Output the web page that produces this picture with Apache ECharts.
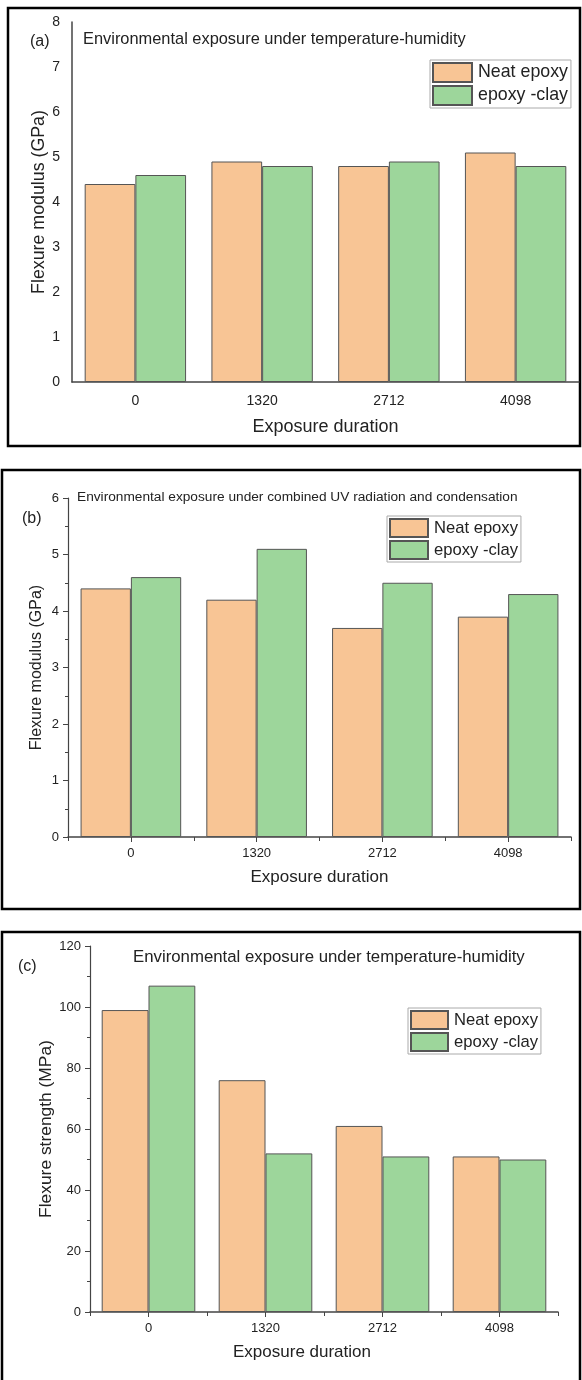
<!DOCTYPE html>
<html>
<head>
<meta charset="utf-8">
<script src="https://cdn.jsdelivr.net/npm/echarts@6/dist/echarts.min.js"></script>
<style>
  html, body { margin: 0; padding: 0; background: #fff; }
  #main { width: 582px; height: 1380px; }
</style>
</head>
<body>
<div id="main"></div>
<script>
// exposure duration categories
var durations = ['0', '1320', '2712', '4098']
var seriesNames = ['Neat epoxy', 'epoxy -clay']

// (a) flexure modulus, temperature-humidity
var modulusTH_neat = [4.4, 4.9, 4.8, 5.1]
var modulusTH_clay = [4.6, 4.8, 4.9, 4.8]
// (b) flexure modulus, UV + condensation
var modulusUV_neat = [4.4, 4.2, 3.7, 3.9]
var modulusUV_clay = [4.6, 5.1, 4.5, 4.3]
// (c) flexure strength, temperature-humidity
var strengthTH_neat = [99, 76, 61, 51]
var strengthTH_clay = [107, 52, 51, 50]

var FONT = 'Liberation Sans, Arial, sans-serif'
var INK = '#222'
var orange = '#F8C595'
var green = '#9DD69B'

var myChart = echarts.init(document.getElementById('main'))

function barSeries (name, data, idx, color) {
  return {
    name: name,
    type: 'bar',
    xAxisIndex: idx,
    yAxisIndex: idx,
    barGap: 0,
    barCategoryGap: '20%',
    itemStyle: { color: color, borderColor: '#555', borderWidth: 1 },
    data: data
  }
}

function legendAt (left, top, iw, ih, fs) {
  return {
    orient: 'vertical',
    left: left,
    top: top,
    itemWidth: iw,
    itemHeight: ih,
    itemGap: 2,
    padding: [2, 3, 2, 2],
    borderColor: '#aaa',
    borderWidth: 1,
    icon: 'rect',
    selectedMode: false,
    textStyle: { fontFamily: FONT, fontSize: fs, color: INK, padding: [0, 0, 0, 1] },
    data: seriesNames
  }
}

var axisLine = { lineStyle: { color: '#444', width: 1.5 } }

myChart.setOption({
  animation: false,
  backgroundColor: '#fff',
  textStyle: { fontFamily: FONT },
  grid: [
    { left: 72, top: 22, width: 507, height: 360 },
    { left: 68, top: 498, width: 503, height: 339 },
    { left: 90, top: 946, width: 468, height: 366 }
  ],
  legend: [
    legendAt(430, 60, 39, 19, 17.8),
    legendAt(387, 516, 38, 18, 16.6),
    legendAt(408, 1008, 37, 18, 16.6)
  ],
  xAxis: [
    {
      type: 'category', gridIndex: 0, data: durations,
      axisLine: axisLine, axisTick: { show: false },
      axisLabel: { color: INK, fontSize: 14, margin: 12 },
      name: 'Exposure duration', nameLocation: 'middle', nameGap: 36, nameMoveOverlap: false,
      nameTextStyle: { color: INK, fontSize: 18 }
    },
    {
      type: 'category', gridIndex: 1, data: durations,
      axisLine: axisLine, axisTick: { show: true, length: 4, lineStyle: { color: '#444' } },
      axisLabel: { color: INK, fontSize: 13, margin: 10 },
      name: 'Exposure duration', nameLocation: 'middle', nameGap: 32, nameMoveOverlap: false,
      nameTextStyle: { color: INK, fontSize: 17 }
    },
    {
      type: 'category', gridIndex: 2, data: durations,
      axisLine: axisLine, axisTick: { show: true, length: 4, lineStyle: { color: '#444' } },
      axisLabel: { color: INK, fontSize: 13, margin: 10 },
      name: 'Exposure duration', nameLocation: 'middle', nameGap: 32, nameMoveOverlap: false,
      nameTextStyle: { color: INK, fontSize: 17, padding: [0, 44, 0, 0] }
    },
    // center ticks for (b) and (c)
    {
      type: 'category', gridIndex: 1, data: durations, position: 'bottom',
      axisLine: { show: false }, axisLabel: { show: false },
      axisTick: { show: true, alignWithLabel: true, length: 5, lineStyle: { color: '#444' } }
    },
    {
      type: 'category', gridIndex: 2, data: durations, position: 'bottom',
      axisLine: { show: false }, axisLabel: { show: false },
      axisTick: { show: true, alignWithLabel: true, length: 5, lineStyle: { color: '#444' } }
    }
  ],
  yAxis: [
    {
      type: 'value', gridIndex: 0, min: 0, max: 8, interval: 1,
      axisLine: { show: true, lineStyle: { color: '#444', width: 1.5 } },
      axisTick: { show: false }, splitLine: { show: false },
      axisLabel: { color: INK, fontSize: 14, margin: 12 },
      name: 'Flexure modulus (GPa)', nameLocation: 'middle', nameGap: 24, nameMoveOverlap: false,
      nameTextStyle: { color: INK, fontSize: 17.8 }
    },
    {
      type: 'value', gridIndex: 1, min: 0, max: 6, interval: 1,
      axisLine: { show: true, lineStyle: { color: '#444', width: 1.2 } },
      axisTick: { show: true, length: 5, lineStyle: { color: '#444' } },
      minorTick: { show: true, splitNumber: 2, length: 3, lineStyle: { color: '#444' } },
      splitLine: { show: false },
      axisLabel: { color: INK, fontSize: 13, margin: 9 },
      name: 'Flexure modulus (GPa)', nameLocation: 'middle', nameGap: 23, nameMoveOverlap: false,
      nameTextStyle: { color: INK, fontSize: 16 }
    },
    {
      type: 'value', gridIndex: 2, min: 0, max: 120, interval: 20,
      axisLine: { show: true, lineStyle: { color: '#444', width: 1.2 } },
      axisTick: { show: true, length: 5, lineStyle: { color: '#444' } },
      minorTick: { show: true, splitNumber: 2, length: 3, lineStyle: { color: '#444' } },
      splitLine: { show: false },
      axisLabel: { color: INK, fontSize: 13, margin: 9 },
      name: 'Flexure strength (MPa)', nameLocation: 'middle', nameGap: 35, nameMoveOverlap: false,
      nameTextStyle: { color: INK, fontSize: 17.4 }
    }
  ],
  graphic: [
    // panel borders
    { type: 'rect', shape: { x: 8, y: 8, width: 572, height: 438 }, style: { fill: 'none', stroke: '#000', lineWidth: 2.5 }, silent: true },
    { type: 'rect', shape: { x: 2, y: 470, width: 578, height: 439 }, style: { fill: 'none', stroke: '#000', lineWidth: 2.5 }, silent: true },
    { type: 'rect', shape: { x: 2, y: 932, width: 578, height: 460 }, style: { fill: 'none', stroke: '#000', lineWidth: 2.5 }, silent: true },
    // panel letters and titles
    { type: 'text', left: 30, top: 34, style: { text: '(a)', font: '16px ' + FONT, fill: INK } },
    { type: 'text', left: 83, top: 31, style: { text: 'Environmental exposure under temperature-humidity', font: '16.4px ' + FONT, fill: INK } },
    { type: 'text', left: 22, top: 511, style: { text: '(b)', font: '16px ' + FONT, fill: INK } },
    { type: 'text', left: 77, top: 490, style: { text: 'Environmental exposure under combined UV radiation and condensation', font: '13.7px ' + FONT, fill: INK } },
    { type: 'text', left: 18, top: 959, style: { text: '(c)', font: '16px ' + FONT, fill: INK } },
    { type: 'text', left: 133, top: 949, style: { text: 'Environmental exposure under temperature-humidity', font: '16.8px ' + FONT, fill: INK } }
  ],
  series: [
    barSeries('Neat epoxy', modulusTH_neat, 0, orange),
    barSeries('epoxy -clay', modulusTH_clay, 0, green),
    barSeries('Neat epoxy', modulusUV_neat, 1, orange),
    barSeries('epoxy -clay', modulusUV_clay, 1, green),
    barSeries('Neat epoxy', strengthTH_neat, 2, orange),
    barSeries('epoxy -clay', strengthTH_clay, 2, green)
  ]
})
myChart.resize()
</script>
</body>
</html>
